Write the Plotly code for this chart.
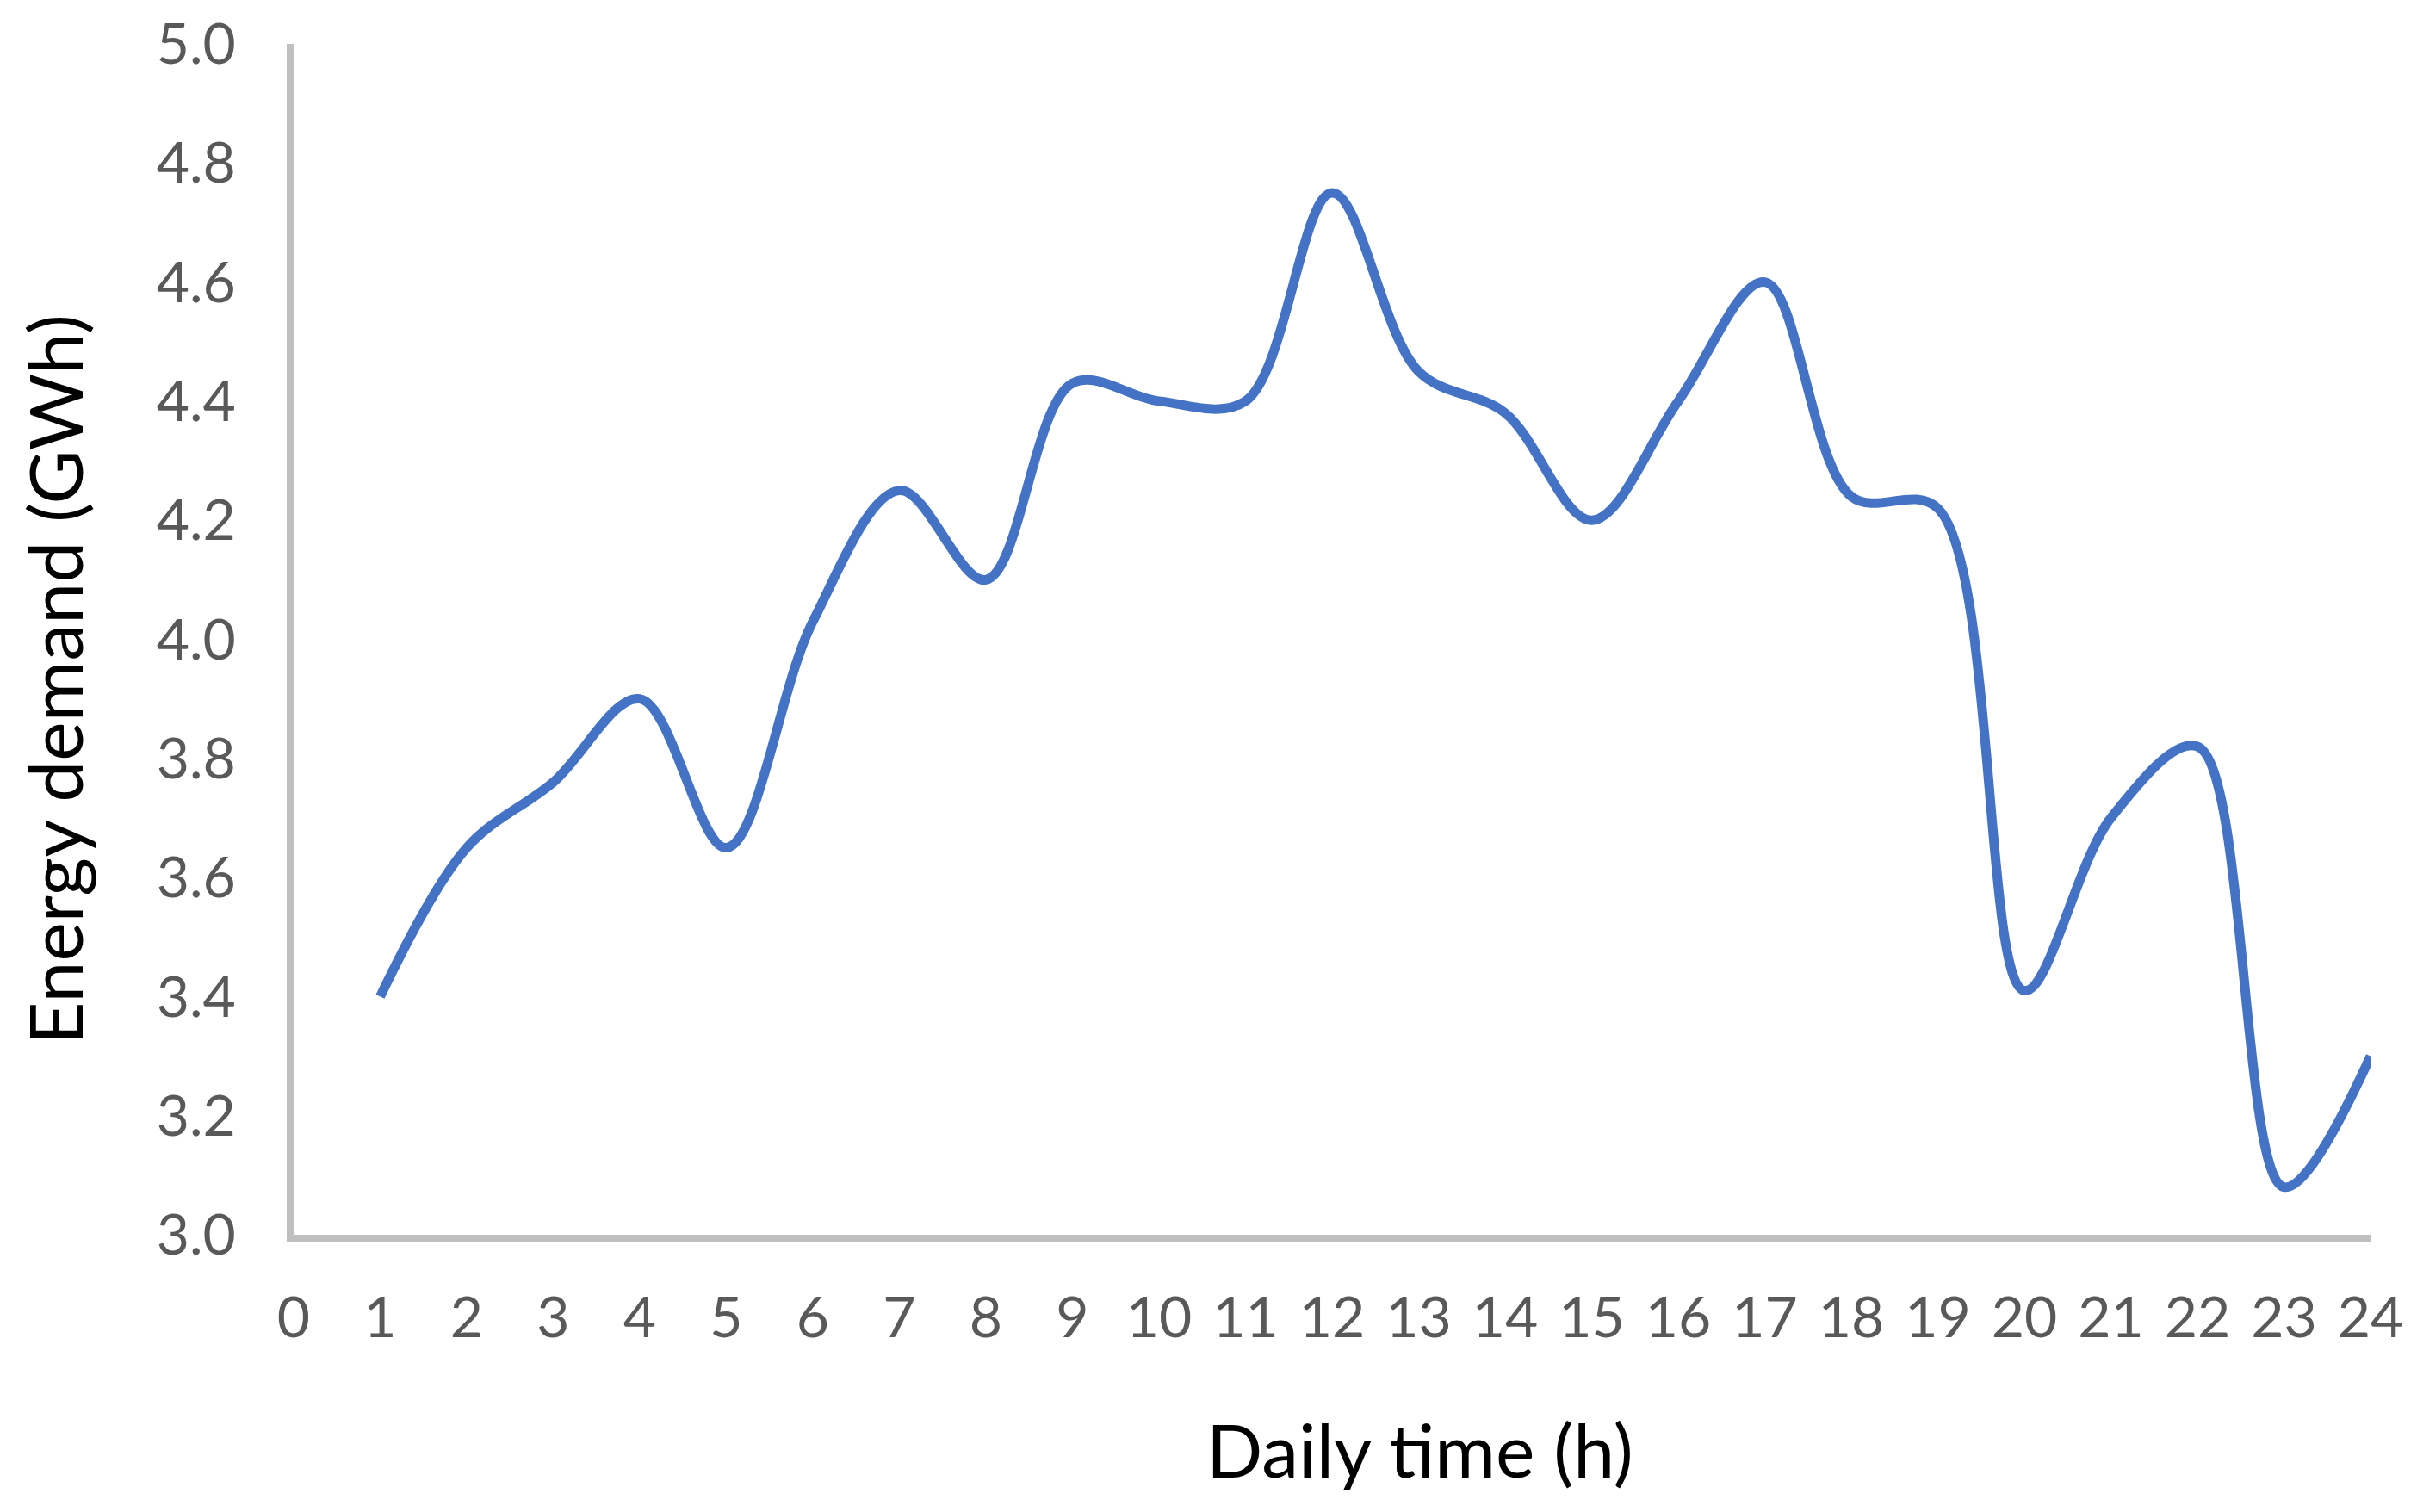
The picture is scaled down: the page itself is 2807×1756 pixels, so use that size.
import plotly.graph_objects as go

hours = list(range(1, 25))
demand = [3.40, 3.65, 3.76, 3.90, 3.65, 4.03, 4.25, 4.10, 4.43, 4.40, 4.40, 4.75,
          4.45, 4.38, 4.20, 4.40, 4.60, 4.24, 4.22, 3.41, 3.70, 3.82, 3.08, 3.30]
x_ticks = list(range(0, 25))
y_ticks = [3.0, 3.2, 3.4, 3.6, 3.8, 4.0, 4.2, 4.4, 4.6, 4.8, 5.0]

# page body has an 8px margin
OFF = 8
W, H = 2807 - 2 * OFF, 1756 - 2 * OFF
L = 341 - OFF
R = W + OFF - 2753
T = 51 - OFF
B = H + OFF - 1434
PW, PH = W - L - R, H - T - B


def px(xp):
    return (xp - OFF - L) / PW


def py(yp):
    return (H - B - (yp - OFF)) / PH


fig = go.Figure()
fig.add_trace(go.Scatter(
    x=hours, y=demand, mode="lines",
    line=dict(color="#4472C4", width=11, shape="spline", smoothing=1.0),
    showlegend=False, hoverinfo="x+y",
))

tickfont = dict(family="Lato, 'Open Sans', sans-serif", size=66, color="#595959")
titlefont = dict(family="Lato, 'Open Sans', sans-serif", size=86, color="#000000")

fig.update_layout(
    width=W, height=H, autosize=False,
    margin=dict(l=L, r=R, t=T, b=B, pad=0, autoexpand=False),
    paper_bgcolor="white", plot_bgcolor="white",
    xaxis=dict(
        range=[0, 24], tickmode="array", tickvals=x_ticks,
        ticktext=[str(v) for v in x_ticks], automargin=False,
        showgrid=False, zeroline=False, showline=True,
        linecolor="#BFBFBF", linewidth=8, ticks="",
        tickfont=tickfont, ticklabelstandoff=32,
    ),
    yaxis=dict(
        range=[3.0, 5.0], tickmode="array", tickvals=y_ticks,
        ticktext=[f"{v:.1f}" for v in y_ticks], automargin=False,
        showgrid=False, zeroline=False, showline=True,
        linecolor="#BFBFBF", linewidth=8, ticks="",
        tickfont=tickfont, ticklabelstandoff=46,
    ),
    annotations=[
        dict(text="Daily time (h)", xref="paper", yref="paper",
             x=px(1649), y=py(1683),
             xanchor="center", yanchor="middle", showarrow=False, font=titlefont),
        dict(text="Energy demand (GWh)", xref="paper", yref="paper",
             x=px(62), y=py(789),
             xanchor="center", yanchor="middle", textangle=-90,
             showarrow=False, font=titlefont),
    ],
)

fig.write_html("out.html")
